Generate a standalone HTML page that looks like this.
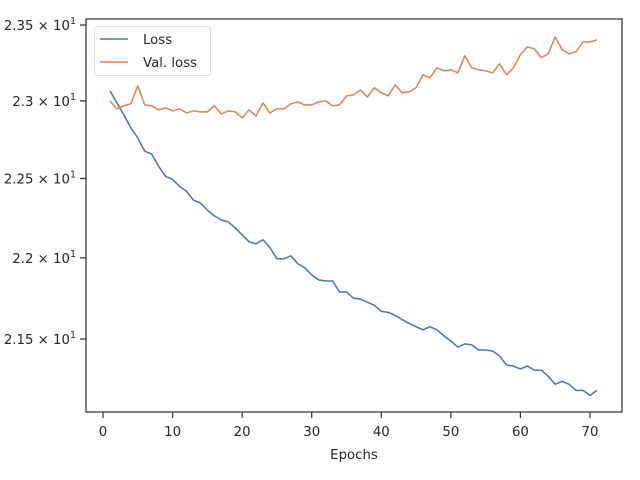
<!DOCTYPE html>
<html><head><meta charset="utf-8"><style>
body{margin:0;background:#fff;}
svg{display:block;font-family:"DejaVu Sans","Liberation Sans",sans-serif;}
</style></head><body>
<svg id="chart" width="640" height="480">
<rect x="0" y="0" width="640" height="480" fill="#fff"/>
<g id="grid"></g>
<g id="lines"></g>
<rect x="86" y="19" width="536" height="393" fill="none" stroke="#333" stroke-width="1.25"/>
<g id="xticks"></g>
<g id="yticks"></g>
<text x="354" y="459" text-anchor="middle" font-size="13.3" fill="#262626">Epochs</text>
<g>
<rect x="94.5" y="26.5" width="116" height="49" rx="3" fill="#fff" fill-opacity="0.8" stroke="#ddd"/>
<g><line x1="100" y1="39" x2="128" y2="39" stroke="#4c72b0" stroke-width="1.5"/><text x="143" y="44" font-size="13.3" fill="#262626">Loss</text></g>
<g><line x1="100" y1="62" x2="128" y2="62" stroke="#dd8452" stroke-width="1.5"/><text x="143" y="67" font-size="13.3" fill="#262626">Val. loss</text></g>
</g>
</svg>
<script>
const loss=[23.066,22.987,22.909,22.825,22.76,22.675,22.656,22.578,22.513,22.494,22.45,22.419,22.363,22.344,22.30,22.263,22.238,22.225,22.188,22.144,22.10,22.088,22.113,22.063,21.994,21.994,22.013,21.963,21.938,21.894,21.863,21.856,21.856,21.788,21.788,21.75,21.744,21.725,21.706,21.669,21.663,21.644,21.619,21.594,21.575,21.556,21.575,21.556,21.519,21.488,21.451,21.47,21.464,21.433,21.433,21.427,21.397,21.342,21.336,21.318,21.336,21.311,21.311,21.274,21.226,21.244,21.226,21.189,21.189,21.159,21.189];
const valLoss=[23.0,22.948,22.968,22.981,23.099,22.974,22.968,22.942,22.955,22.935,22.948,22.922,22.935,22.929,22.929,22.968,22.916,22.935,22.929,22.89,22.942,22.903,22.987,22.922,22.948,22.948,22.981,22.994,22.974,22.974,22.994,23.0,22.968,22.974,23.033,23.039,23.072,23.026,23.086,23.053,23.033,23.105,23.053,23.059,23.086,23.171,23.151,23.217,23.197,23.204,23.184,23.296,23.217,23.204,23.197,23.184,23.243,23.171,23.217,23.303,23.355,23.342,23.283,23.309,23.421,23.336,23.309,23.322,23.388,23.388,23.401];
const xTicks=[0,10,20,30,40,50,60,70];
const yTicks=[23.5,23.0,22.5,22.0,21.5];
const yTickLabels=["2.35","2.3","2.25","2.2","2.15"];
const NS="http://www.w3.org/2000/svg";
function xS(v){return 103+v*(590-103)/70;}
function yS(v){return 25+Math.log(23.5/v)*3530;}
function mk(t,a,p){const e=document.createElementNS(NS,t);for(const k in a)e.setAttribute(k,a[k]);p.appendChild(e);return e;}
const xt=document.getElementById('xticks');
xTicks.forEach(t=>{
 const l=mk('line',{x1:xS(t),x2:xS(t),y1:412,y2:418,stroke:'#333','stroke-width':1.25},xt);
 
 
 const tx=mk('text',{x:xS(t),y:436,'text-anchor':'middle','font-size':13.3,fill:'#262626'},xt);
 tx.textContent=t;
 
 
});
const yt=document.getElementById('yticks');
yTicks.forEach((t,i)=>{
 const y=yS(t);
 const l=mk('line',{x1:80,x2:86,y1:y,y2:y,stroke:'#333','stroke-width':1.25},yt);
 
 
 const tx=mk('text',{x:76,y:y+5,'text-anchor':'end','font-size':13.3,fill:'#262626'},yt);
 tx.innerHTML=yTickLabels[i]+' × 10<tspan dy="-6" font-size="9.5">1</tspan>';
 
 
});
const lg=document.getElementById('lines');
function line(arr,color,name){
 const d=arr.map((v,i)=>(i?'L':'M')+xS(i+1).toFixed(2)+','+yS(v).toFixed(2)).join(' ');
 const p=mk('path',{d:d,fill:'none',stroke:color,'stroke-width':1.5,'stroke-linejoin':'round'},lg);
 
 
}
line(loss,'#4c72b0','loss-line');
line(valLoss,'#dd8452','val-loss-line');
</script>
</body></html>
